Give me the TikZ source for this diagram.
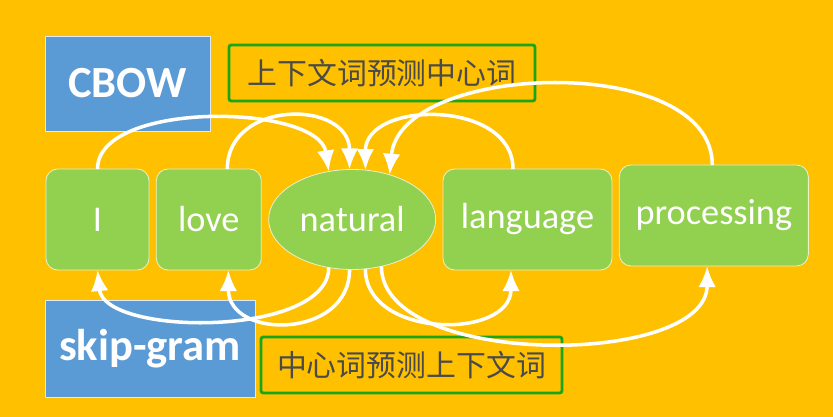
\documentclass[tikz,border=0pt]{standalone}
\usepackage{fontspec}
\setmainfont{Carlito}
\newfontfamily\cjkfont{Noto Sans CJK SC}
\usetikzlibrary{arrows.meta,positioning,shapes.geometric}

\definecolor{bgorange}{HTML}{FFC000}
\definecolor{boxblue}{HTML}{5B9BD5}
\definecolor{wordgreen}{HTML}{92D050}
\definecolor{wordedge}{HTML}{E6F2C8}
\definecolor{hintgreen}{HTML}{1AA61A}
\definecolor{textgray}{HTML}{4A4A4A}

\begin{document}
\begin{tikzpicture}[
        font=\fontsize{31}{36}\selectfont,
        node distance=2.2mm,
        >=Latex,
        method/.style={draw=white!80!boxblue, fill=boxblue, line width=0.8pt, text=white, font=\fontsize{38}{44}\selectfont\bfseries, inner sep=0pt, outer sep=0pt},
        hint/.style={draw=hintgreen, rounded corners=2pt, line width=2.4pt, text=textgray, font=\cjkfont\fontsize{25.5}{30}\selectfont, minimum height=1.68cm, inner sep=0pt},
        word/.style={draw=wordedge, fill=wordgreen, rounded corners=10pt, line width=0.7pt, text=white, minimum height=3.03cm, inner sep=0pt, outer sep=0pt},
        centre/.style={ellipse, draw=wordedge, fill=wordgreen, line width=0.7pt, text=white, minimum width=5.01cm, minimum height=3.0cm, inner sep=2pt, outer sep=0pt},
        link/.style={draw=white, line width=3pt, -{Latex[length=18pt,width=15pt]}}
    ]
        \fill[bgorange] (0,0) rectangle (24.99,-12.51);

        \node[method, minimum width=4.95cm, minimum height=2.85cm] (cbow) at (3.825,-2.505) {CBOW};
        \node[hint, minimum width=9.18cm] (cbowhint) at (11.46,-2.19) {上下文词预测中心词};

        \node[word, minimum width=3.09cm] (wI) at (2.925,-6.585) {I};
        \node[word, minimum width=3.15cm, right=of wI] (love) {love};
        \node[centre, right=of love] (natural) {natural};
        \node[word, minimum width=5.07cm, right=of natural] (language) {language};
        \node[word, minimum width=5.67cm, right=of language, yshift=0.12cm] (processing) {processing};

        \node[method, minimum width=6.3cm, minimum height=2.91cm] (skipgram) at (4.5,-10.455) {skip-gram};
        \node[hint, minimum width=9.03cm] (sghint) at (12.345,-10.95) {中心词预测上下文词};

        % context -> centre
        \draw[link] (wI.north) .. controls +(0,2.07) and +(-0.3,2.04) .. (natural.116);
        \draw[link] ([xshift=0.555cm]love.north) .. controls +(0,2.1) and +(0,2.1) .. (natural.93);
        \draw[link] ([xshift=-0.435cm]language.north) .. controls +(0,2.1) and +(0,2.1) .. (natural.75);
        \draw[link] ([xshift=-0.045cm]processing.north) .. controls +(0,3.4) and +(0.3,3.4) .. (natural.50);

        % centre -> context
        \draw[link] (natural.-116) .. controls +(0,-2.1) and +(0.2,-2.0) .. (wI.south);
        \draw[link] (natural.-93) .. controls +(0,-2.1) and +(0,-2.1) .. ([xshift=0.585cm]love.south);
        \draw[link] (natural.-75) .. controls +(0,-2.1) and +(0,-2.1) .. ([xshift=-0.495cm]language.south);
        \draw[link] (natural.-58) .. controls +(0,-3.06) and +(0,-3.06) .. ([xshift=-0.2cm]processing.south);
    \end{tikzpicture}
\end{document}
